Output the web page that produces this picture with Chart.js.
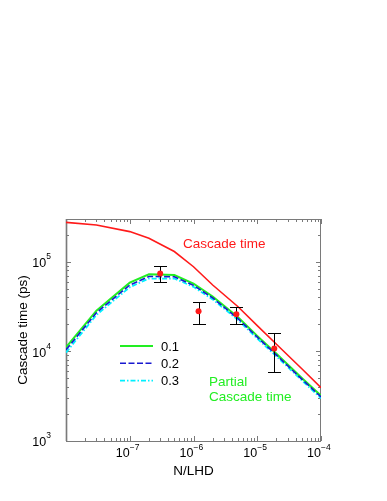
<!DOCTYPE html>
<html>
<head>
<meta charset="utf-8">
<script src="https://cdn.jsdelivr.net/npm/chart.js@4.4.1/dist/chart.umd.min.js"></script>
<style>
  body { margin: 0; background: #fff; }
</style>
</head>
<body>
<canvas id="cascade-canvas" width="387" height="501"></canvas>
<script>
// ========== Data
const nLhd = [1e-8, 3e-8, 1e-7, 2e-7, 5e-7, 1e-6, 2e-6, 5e-6, 1e-5, 2e-5, 5e-5, 1e-4];
const cascadeTime = [2.75e5, 2.57e5, 2.17e5, 1.83e5, 1.3e5, 8.8e4, 5.5e4, 3.15e4, 1.94e4, 1.2e4, 6.4e3, 3.94e3];
const partial01 = [1.11e4, 2.85e4, 5.85e4, 7.25e4, 7.1e4, 5.7e4, 4.1e4, 2.4e4, 1.49e4, 9.4e3, 5.05e3, 3.2e3];
const partial02 = [1.04e4, 2.7e4, 5.5e4, 6.85e4, 6.8e4, 5.45e4, 3.95e4, 2.32e4, 1.44e4, 9.1e3, 4.9e3, 3.1e3];
const partial03 = [9.7e3, 2.55e4, 5.2e4, 6.5e4, 6.5e4, 5.25e4, 3.8e4, 2.24e4, 1.39e4, 8.8e3, 4.75e3, 3.0e3];

// measured points with error bars
const measX = [3e-7, 1.2e-6, 4.7e-6, 1.85e-5];
const measY = [7.4e4, 2.8e4, 2.6e4, 1.08e4];
const measLow = [6.0e4, 2.0e4, 2.0e4, 5.9e3];
const measHigh = [9.0e4, 3.6e4, 3.15e4, 1.6e4];

// tick labels (exponents of 10)
const xTickExp = [-7, -6, -5, -4];
const yTickExp = [3, 4, 5];

// ========== Colors
let redColor = '#ff1a1a';
let greenColor = '#22ee22';
let blueColor = '#1818d0';
let cyanColor = '#00f0ff';
let frameColor = '#7a7a7a';

const toXY = (ys) => ys.map((v, i) => ({ x: nLhd[i], y: v }));

const decorPlugin = {
    id: 'decor',
    beforeDatasetsDraw(chart) {
        const { ctx, chartArea: a, scales: { x, y } } = chart;
        ctx.save();
        // left axis light band
        ctx.fillStyle = '#d4d4d4';
        ctx.fillRect(a.left - 1, a.top, 3, a.bottom - a.top);
        ctx.strokeStyle = frameColor;
        ctx.lineWidth = 1;
        ctx.strokeRect(a.left + 0.5, a.top + 0.5, a.right - a.left - 1, a.bottom - a.top);

        // inward ticks on all sides
        ctx.beginPath();
        for (let d = -8; d <= -4; d++) {
            for (let m = 1; m <= 9; m++) {
                const v = m * Math.pow(10, d);
                if (v < x.min * 0.999 || v > x.max * 1.001) continue;
                const p = Math.round(x.getPixelForValue(v)) + 0.5;
                const len = m === 1 ? 5 : 3;
                ctx.moveTo(p, a.bottom); ctx.lineTo(p, a.bottom - len);
                ctx.moveTo(p, a.top); ctx.lineTo(p, a.top + len);
            }
        }
        for (let d = 3; d <= 5; d++) {
            for (let m = 1; m <= 9; m++) {
                const v = m * Math.pow(10, d);
                if (v < y.min * 0.999 || v > y.max * 1.001) continue;
                const p = Math.round(y.getPixelForValue(v)) + 0.5;
                const len = m === 1 ? 5 : 3;
                ctx.moveTo(a.left, p); ctx.lineTo(a.left + len, p);
                ctx.moveTo(a.right, p); ctx.lineTo(a.right - len, p);
            }
        }
        ctx.stroke();
        ctx.restore();
    },
    afterDatasetDraw(chart, args) {
        // error bars go after the last curve, before the points
        if (args.index !== 1) return;
        const { ctx, scales: { x, y } } = chart;
        ctx.save();
        ctx.strokeStyle = '#000';
        ctx.lineWidth = 1;
        ctx.beginPath();
        measX.forEach((v, i) => {
            const px = Math.round(x.getPixelForValue(v)) + 0.5;
            const top = Math.round(y.getPixelForValue(measHigh[i])) + 0.5;
            const bot = Math.round(y.getPixelForValue(measLow[i])) + 0.5;
            ctx.moveTo(px, top); ctx.lineTo(px, bot);
            ctx.moveTo(px - 6.5, top); ctx.lineTo(px + 6.5, top);
            ctx.moveTo(px - 6.5, bot); ctx.lineTo(px + 6.5, bot);
        });
        ctx.stroke();
        ctx.restore();
    },
    afterDraw(chart) {
        const { ctx, chartArea: a, scales: { x, y } } = chart;
        ctx.save();
        ctx.fillStyle = '#000';
        // x tick labels
        xTickExp.forEach(e => {
            const p = x.getPixelForValue(Math.pow(10, e));
            ctx.font = '12.5px "Liberation Sans", Arial, sans-serif';
            ctx.textAlign = 'right'; ctx.textBaseline = 'middle';
            ctx.fillText('10', p, a.bottom + 13);
            ctx.font = '8.5px "Liberation Sans", Arial, sans-serif';
            ctx.textAlign = 'left';
            ctx.fillText('\u2212' + Math.abs(e), p, a.bottom + 7);
        });
        // y tick labels
        yTickExp.forEach(e => {
            const p = y.getPixelForValue(Math.pow(10, e));
            ctx.font = '8.5px "Liberation Sans", Arial, sans-serif';
            ctx.textAlign = 'right'; ctx.textBaseline = 'middle';
            ctx.fillText(String(e), a.left - 15, p - 5);
            const w = ctx.measureText(String(e)).width;
            ctx.font = '12.5px "Liberation Sans", Arial, sans-serif';
            ctx.fillText('10', a.left - 15 - w, p + 2);
        });
        // axis titles
        ctx.font = '13.5px "Liberation Sans", Arial, sans-serif';
        ctx.textAlign = 'center'; ctx.textBaseline = 'middle';
        ctx.fillText('N/LHD', (a.left + a.right) / 2, 471);
        ctx.save();
        ctx.translate(23, (a.top + a.bottom) / 2);
        ctx.rotate(-Math.PI / 2);
        ctx.fillText('Cascade time (ps)', 0, 0);
        ctx.restore();

        // annotations
        ctx.textAlign = 'left';
        ctx.fillStyle = redColor;
        ctx.fillText('Cascade time', 183, 244);
        ctx.fillStyle = greenColor;
        ctx.fillText('Partial', 209, 382);
        ctx.fillText('Cascade time', 209, 397);

        // legend
        const order = [3, 2, 4];
        order.forEach((di, k) => {
            const ds = chart.data.datasets[di];
            const ly = 346 + k * 17.3;
            ctx.strokeStyle = ds.borderColor;
            ctx.lineWidth = ds.borderWidth;
            ctx.setLineDash(ds.borderDash || []);
            ctx.beginPath();
            ctx.moveTo(120, ly); ctx.lineTo(153, ly);
            ctx.stroke();
            ctx.setLineDash([]);
            ctx.fillStyle = '#000';
            ctx.font = '13px "Liberation Sans", Arial, sans-serif';
            ctx.fillText(ds.label, 161, ly + 1);
        });
        ctx.restore();
    }
};

var cascadeCanvas = document.getElementById('cascade-canvas');
var cascadeChart = new Chart(cascadeCanvas, {
    type: 'scatter',
    data: {
        datasets: [
            {
                label: 'measured',
                data: measX.map((v, i) => ({ x: v, y: measY[i] })),
                backgroundColor: redColor,
                borderColor: redColor,
                pointRadius: 3,
                pointBorderWidth: 0,
                showLine: false
            },
            {
                label: 'Cascade time',
                data: toXY(cascadeTime),
                borderColor: redColor,
                borderWidth: 1.6,
                showLine: true,
                pointRadius: 0
            },
            {
                label: '0.2',
                data: toXY(partial02),
                borderColor: blueColor,
                borderWidth: 1.6,
                borderDash: [6, 2.5],
                showLine: true,
                pointRadius: 0
            },
            {
                label: '0.1',
                data: toXY(partial01),
                borderColor: greenColor,
                borderWidth: 2,
                showLine: true,
                pointRadius: 0
            },
            {
                label: '0.3',
                data: toXY(partial03),
                borderColor: cyanColor,
                borderWidth: 1.8,
                borderDash: [5, 2, 1.5, 2],
                showLine: true,
                pointRadius: 0
            }
        ]
    },
    options: {
        responsive: false,
        animation: false,
        layout: { padding: { left: 66, right: 66, top: 219, bottom: 60 } },
        plugins: { legend: { display: false }, tooltip: { enabled: false } },
        scales: {
            x: { type: 'logarithmic', min: 1e-8, max: 1e-4, display: false },
            y: { type: 'logarithmic', min: 1e3, max: 3e5, display: false }
        }
    },
    plugins: [decorPlugin]
});
</script>
</body>
</html>
